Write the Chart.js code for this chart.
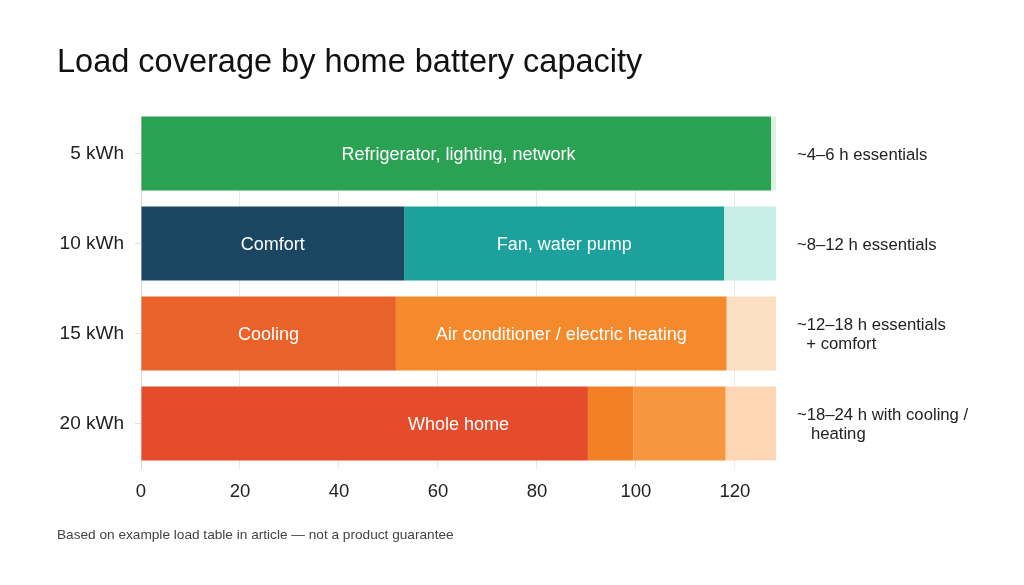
<!DOCTYPE html>
<html>
<head>
<meta charset="utf-8">
<script src="https://cdn.jsdelivr.net/npm/chart.js@4.4.1/dist/chart.umd.min.js"></script>
<style>
  html, body { margin: 0; padding: 0; background: #ffffff; }
  #wrap { position: relative; width: 1024px; height: 585px; overflow: hidden; background: #fff; }
  #title { position: absolute; left: 57px; top: 43px; font: 32.5px "Liberation Sans", Arial, sans-serif; color: #111; white-space: nowrap; }
  #note { position: absolute; left: 57px; top: 527px; font: 13.65px "Liberation Sans", Arial, sans-serif; color: #444; white-space: nowrap; }
  #cv { position: absolute; left: 0; top: 0; }
</style>
</head>
<body>
<div id="wrap">
  <canvas id="cv" width="1024" height="585"></canvas>
  <div id="title">Load coverage by home battery capacity</div>
  <div id="note">Based on example load table in article — not a product guarantee</div>
</div>
<script>
// ---- data ----
const categories = ['5 kWh', '10 kWh', '15 kWh', '20 kWh'];
const seg1 = [127.3, 53.2, 51.5, 90.3];
const seg2 = [1.0, 64.6, 66.8, 9.2];
const seg3 = [0, 10.5, 10.0, 18.6];
const seg4 = [0, 0, 0, 10.2];
const seg1Labels = ['Refrigerator, lighting, network', 'Comfort', 'Cooling', 'Whole home'];
const seg2Labels = ['', 'Fan, water pump', 'Air conditioner / electric heating', ''];
const seg3Labels = ['', '', '', ''];
const seg4Labels = ['', '', '', ''];
const runtimeNotes = [
  ['~4–6 h essentials'],
  ['~8–12 h essentials'],
  ['~12–18 h essentials', '  + comfort'],
  ['~18–24 h with cooling /', '   heating']
];
const xTicks = [0, 20, 40, 60, 80, 100, 120];

const seg1Colors = ['#2aa153', '#1b4662', '#e8622a', '#e54c2c'];
const seg2Colors = ['#d9f4e3', '#1ca19d', '#f58a2d', '#f48026'];
const seg3Colors = ['#ffffff', '#c6eee6', '#fddfc3', '#f7963e'];
const seg4Colors = ['#ffffff', '#ffffff', '#ffffff', '#fdd7b3'];

const FONT = '"Liberation Sans", Arial, sans-serif';
const allLabels = [seg1Labels, seg2Labels, seg3Labels, seg4Labels];

const labelPlugin = {
  id: 'segLabels',
  beforeDatasetsDraw(chart) {
    // keep grid lines from showing above the first bar
    const bar = chart.getDatasetMeta(0).data[0];
    if (!bar) return;
    const top = bar.y - bar.height / 2;
    const ca = chart.chartArea;
    const ctx = chart.ctx;
    ctx.save();
    ctx.fillStyle = '#ffffff';
    ctx.fillRect(ca.left - 2, ca.top - 2, ca.right - ca.left + 4, top - ca.top + 2);
    ctx.restore();
  },
  afterDatasetsDraw(chart) {
    const ctx = chart.ctx;
    const xs = chart.scales.x;
    const ys = chart.scales.y;
    ctx.save();
    ctx.fillStyle = '#ffffff';
    ctx.font = '18px ' + FONT;
    ctx.textAlign = 'center';
    ctx.textBaseline = 'middle';
    categories.forEach((c, i) => {
      const segs = chart.data.datasets.map(d => d.data[i]);
      const nonEmpty = allLabels.filter(l => l[i]).length;
      const total = segs.reduce((a, b) => a + b, 0);
      let start = 0;
      const y = ys.getPixelForValue(i);
      segs.forEach((v, k) => {
        const txt = allLabels[k][i];
        if (txt) {
          let cx;
          if (nonEmpty === 1) cx = xs.getPixelForValue(total / 2);
          else cx = xs.getPixelForValue(start + v / 2);
          ctx.fillText(txt, cx, y + 1.5);
        }
        start += v;
      });
    });
    // runtime notes on the right
    ctx.fillStyle = '#222';
    ctx.font = '16.7px ' + FONT;
    ctx.textAlign = 'left';
    const nx = chart.chartArea.right + 21;
    runtimeNotes.forEach((lines, i) => {
      const y = ys.getPixelForValue(i);
      const lh = 19;
      const y0 = y - (lines.length - 1) * lh / 2;
      lines.forEach((ln, j) => ctx.fillText(ln, nx, y0 + j * lh + 1.5));
    });
    ctx.restore();
  }
};

new Chart(document.getElementById('cv'), {
  type: 'bar',
  data: {
    labels: categories,
    datasets: [
      { data: seg1, backgroundColor: seg1Colors },
      { data: seg2, backgroundColor: seg2Colors },
      { data: seg3, backgroundColor: seg3Colors },
      { data: seg4, backgroundColor: seg4Colors }
    ]
  },
  options: {
    indexAxis: 'y',
    responsive: false,
    animation: false,
    events: [],
    barPercentage: 0.82,
    categoryPercentage: 1,
    layout: { padding: { top: 108.5, right: 248, left: 0, bottom: 0 } },
    plugins: { legend: { display: false }, tooltip: { enabled: false }, title: { display: false } },
    scales: {
      x: {
        stacked: true,
        min: 0,
        max: 128.3,
        afterBuildTicks(scale) { scale.ticks = xTicks.map(v => ({ value: v })); },
        afterFit(scale) { scale.height = 116.5; },
        grid: { color: 'rgba(0,0,0,0.09)', drawTicks: false },
        border: { display: false },
        ticks: { color: '#222', font: { size: 18.5, family: FONT }, padding: 12 }
      },
      y: {
        stacked: true,
        afterFit(scale) { scale.width = 141; },
        grid: { offset: false, drawOnChartArea: false, tickLength: 6, color: 'rgba(0,0,0,0.12)' },
        border: { display: true, color: 'rgba(0,0,0,0.08)' },
        ticks: { color: '#222', font: { size: 19, family: FONT }, padding: 11 }
      }
    }
  },
  plugins: [labelPlugin]
});
</script>
</body>
</html>
